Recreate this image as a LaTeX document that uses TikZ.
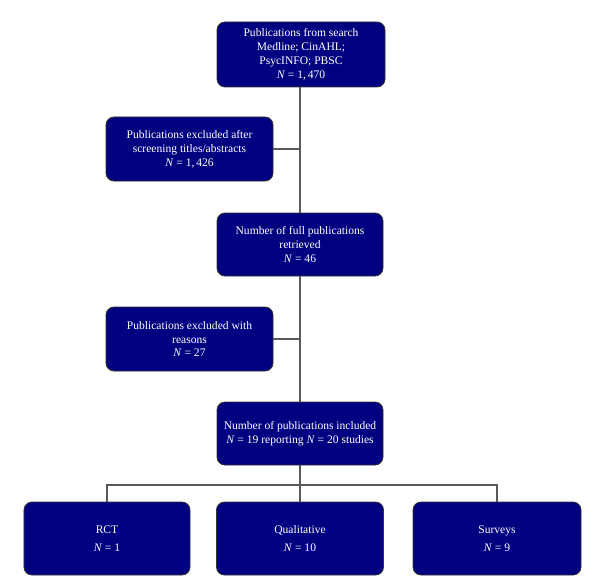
\documentclass[tikz,border=0pt]{standalone}
\usepackage{fontspec}
\setmainfont{Liberation Serif}
\begin{document}
\begin{tikzpicture}[x=1bp,y=-1bp,
  box/.style={draw=black!80, line width=0.8bp, fill={rgb,255:red,0;green,0;blue,128}, rounded corners=8bp,
    text=white, align=center, font=\fontsize{11.6}{14}\selectfont, inner sep=2bp},
  leaf/.style={box, font=\fontsize{11.6}{18}\selectfont, minimum height=73bp},
  link/.style={draw=black!65, line width=1.1bp}]
\useasboundingbox (0,0) rectangle (600,583);
\node[box, minimum width=168bp, minimum height=65bp] (top) at (301,54.5)
  {Publications from search\\Medline; CinAHL;\\PsycINFO; PBSC\\\textit{N}~=~1,\,470};
\node[box, minimum width=167bp, minimum height=64bp] (ex1) at (189.5,149)
  {Publications excluded after\\screening titles/abstracts\\\textit{N}~=~1,\,426};
\node[box, minimum width=166bp, minimum height=63bp] (full) at (300,244.5)
  {Number of full publications\\retrieved\\\textit{N}~=~46};
\node[box, minimum width=167bp, minimum height=64bp] (ex2) at (189.5,339)
  {Publications excluded with\\reasons\\\textit{N}~=~27};
\node[box, minimum width=166bp, minimum height=63bp] (inc) at (300,433.5)
  {Number of publications included\\\textit{N}~=~19 reporting \textit{N}~=~20 studies};
\node[leaf, minimum width=166bp] (rct) at (107,538.5)
  {RCT\\\textit{N}~=~1};
\node[leaf, minimum width=167bp] (qual) at (300,538.5)
  {Qualitative\\\textit{N}~=~10};
\node[leaf, minimum width=168bp] (surv) at (497,538.5)
  {Surveys\\\textit{N}~=~9};
\coordinate (bar) at (300,485);
\draw[link] (300,87) -- (full.north);
\draw[link] (ex1.east) -- (ex1.east -| full.north);
\draw[link] (full.south) -- (inc.north);
\draw[link] (ex2.east) -- (ex2.east -| inc.north);
\draw[link] (inc.south) -- (qual.north);
\draw[link] (rct.north) |- (bar) -| (surv.north);
\end{tikzpicture}
\end{document}
